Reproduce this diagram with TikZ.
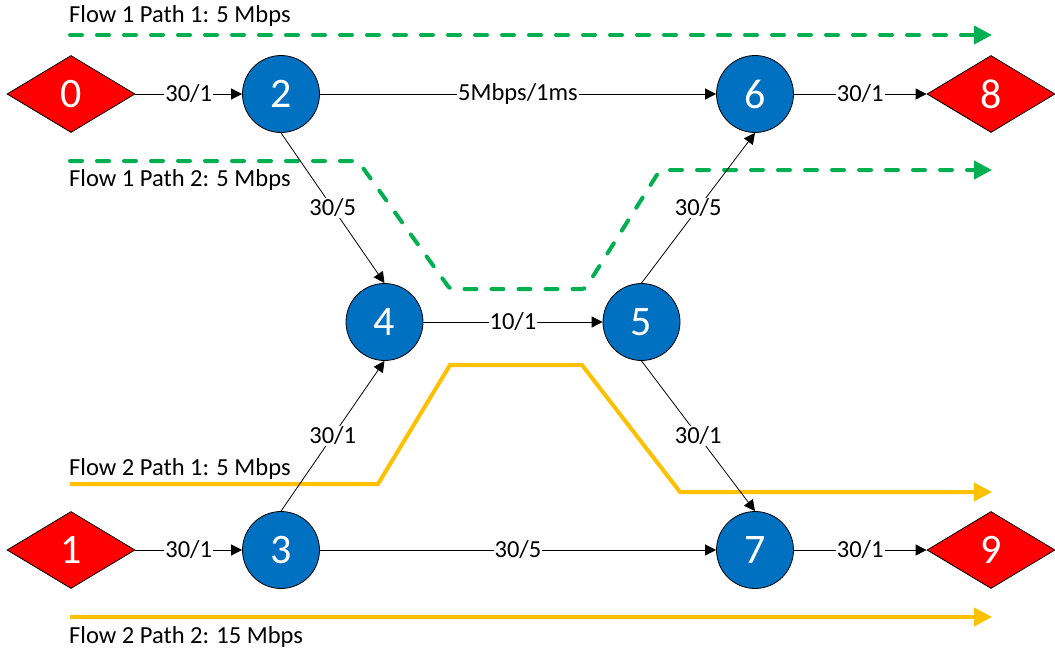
\documentclass[tikz,border=0pt]{standalone}
\usepackage{fontspec}
\setmainfont{Carlito}
\usetikzlibrary{shapes.geometric,arrows.meta}
\definecolor{nodeblue}{HTML}{0070C0}
\definecolor{flowgreen}{HTML}{00B050}
\definecolor{flowyellow}{HTML}{FFC000}
\definecolor{hostred}{HTML}{FF0000}
\tikzset{
  router/.style={circle, draw=black, line width=0.8pt, fill=nodeblue, minimum size=77pt, inner sep=0pt, text=white, font=\fontsize{42}{42}\selectfont},
  host/.style={diamond, draw=black, line width=0.8pt, fill=hostred, minimum width=128pt, minimum height=77pt, aspect=1.66, inner sep=0pt, text=white, font=\fontsize{42}{42}\selectfont},
  link/.style={-{Triangle[length=11pt,width=11pt]}, line width=0.8pt, black},
  lbl/.style={fill=white, inner sep=1pt, font=\fontsize{24.5}{24.5}\selectfont},
  flowtxt/.style={anchor=base west, inner sep=0pt, font=\fontsize{24.5}{24.5}\selectfont},
  greenflow/.style={flowgreen, line width=4pt, line cap=round, dash pattern=on 12pt off 15pt, -{Triangle[length=18pt,width=18pt]}},
  yellowflow/.style={flowyellow, line width=4pt, -{Triangle[length=18pt,width=18pt]}},
}
\begin{document}
\begin{tikzpicture}[x=1pt,y=-1pt]
\useasboundingbox (0,0) rectangle (1055,653);
% flows (drawn first, under nodes)
\coordinate (g1s) at (70,35);
\coordinate (g1e) at (992,35);
\draw[greenflow] (g1s) -- (g1e);
\coordinate (g2s) at (70,161);
\coordinate (g2a) at (358,161);
\coordinate (g2b) at (450,289);
\coordinate (g2c) at (585,289);
\coordinate (g2d) at (660,170);
\coordinate (g2e) at (992,170);
\draw[greenflow, rounded corners=3pt] (g2s) -- (g2a) -- (g2b) -- (g2c) -- (g2d) -- (g2e);
\coordinate (y1s) at (70,484);
\coordinate (y1a) at (378,484);
\coordinate (y1b) at (450,365);
\coordinate (y1c) at (582,365);
\coordinate (y1d) at (680,492);
\coordinate (y1e) at (992,492);
\draw[yellowflow] (y1s) -- (y1a) -- (y1b) -- (y1c) -- (y1d) -- (y1e);
\coordinate (y2s) at (70,617);
\coordinate (y2e) at (992,617);
\draw[yellowflow] (y2s) -- (y2e);
% flow labels
\node[flowtxt] (t1) at (69,23) {Flow 1 Path 1: 5 Mbps};
\node[flowtxt] (t2) at (69,186) {Flow 1 Path 2: 5 Mbps};
\node[flowtxt] (t3) at (69,475) {Flow 2 Path 1: 5 Mbps};
\node[flowtxt] (t4) at (69,643) {Flow 2 Path 2: 15 Mbps};
% nodes
\node[host] (n0) at (71,94) {0};
\node[host] (n1) at (71,550) {1};
\node[router] (n2) at (281,94) {2};
\node[router] (n3) at (281,550) {3};
\node[router] (n4) at (384.5,322) {4};
\node[router] (n5) at (641.5,322) {5};
\node[router] (n6) at (755,94) {6};
\node[router] (n7) at (755,550) {7};
\node[host] (n8) at (991,94) {8};
\node[host] (n9) at (991,550) {9};
% links
\draw[link] (n0.east) -- node[lbl] {30/1} (n2.west);
\draw[link] (n2.east) -- node[lbl] {5Mbps/1ms} (n6.west);
\draw[link] (n6.east) -- node[lbl] {30/1} (n8.west);
\draw[link] (n2.south) -- node[lbl] {30/5} (n4.north);
\draw[link] (n4.east) -- node[lbl] {10/1} (n5.west);
\draw[link] (n5.north) -- node[lbl] {30/5} (n6.south);
\draw[link] (n3.north) -- node[lbl] {30/1} (n4.south);
\draw[link] (n5.south) -- node[lbl] {30/1} (n7.north);
\draw[link] (n1.east) -- node[lbl] {30/1} (n3.west);
\draw[link] (n3.east) -- node[lbl] {30/5} (n7.west);
\draw[link] (n7.east) -- node[lbl] {30/1} (n9.west);
\end{tikzpicture}
\end{document}
